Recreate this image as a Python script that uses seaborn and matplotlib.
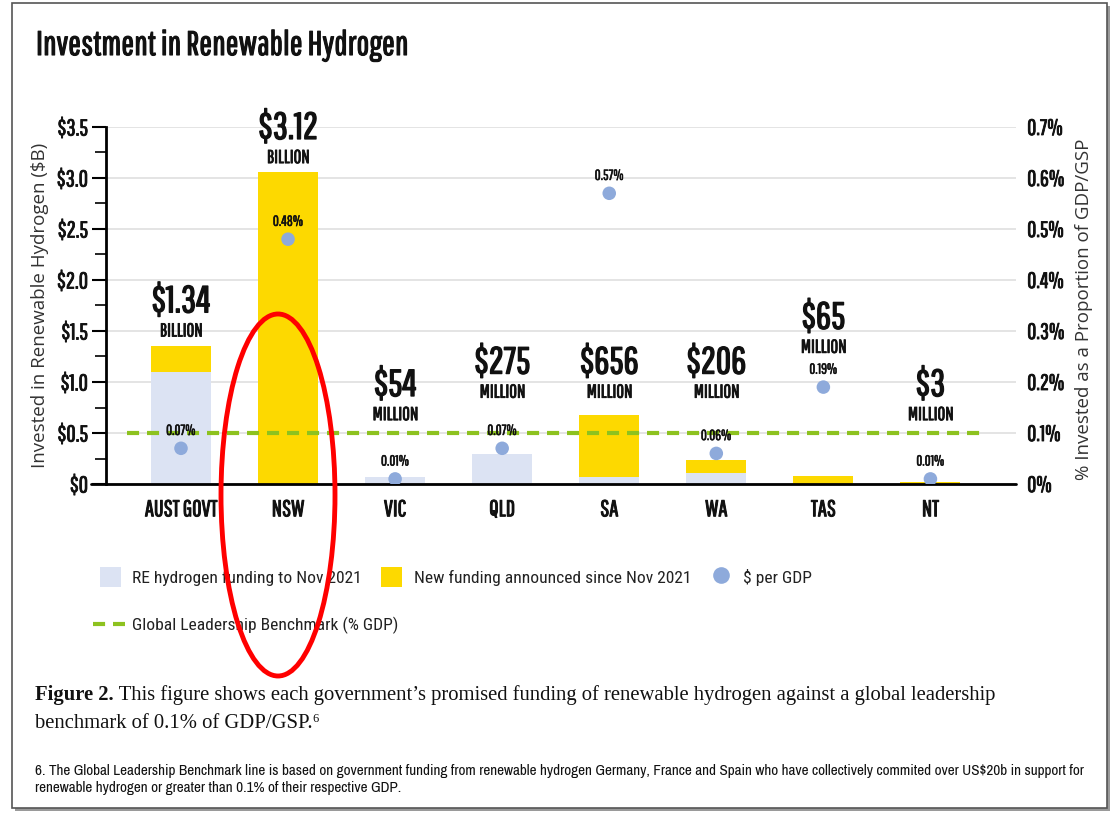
import numpy as np
import pandas as pd
import seaborn as sns
import matplotlib.pyplot as plt
import matplotlib.patheffects as pe
from matplotlib.patches import Ellipse, Rectangle, Patch
from matplotlib.lines import Line2D

# data
govts = ["AUST GOVT", "NSW", "VIC", "QLD", "SA", "WA", "TAS", "NT"]
funding_to_nov21 = [1.10, 0.0, 0.07, 0.29, 0.07, 0.11, 0.0, 0.0]      # $B
new_funding = [0.25, 3.06, 0.0, 0.0, 0.61, 0.125, 0.08, 0.02]          # $B
pct_gdp = [0.07, 0.48, 0.01, 0.07, 0.57, 0.06, 0.19, 0.01]             # % of GDP/GSP
total_labels = ["$1.34", "$3.12", "$54", "$275", "$656", "$206", "$65", "$3"]
unit_labels = ["BILLION", "BILLION", "MILLION", "MILLION", "MILLION", "MILLION", "MILLION", "MILLION"]
benchmark = 0.1

LIGHT = "#dce3f3"
YELLOW = "#fdd900"
DOT = "#8eaadb"
GREEN = "#8dc21f"
INK = "#111111"
GOTHIC = ["Pathway Gothic One", "Roboto Condensed", "DejaVu Sans"]
COND = ["Roboto Condensed", "DejaVu Sans"]
NARROW = ["Archivo Narrow", "Roboto Condensed", "DejaVu Sans"]
SANS = ["Open Sans", "DejaVu Sans"]
SERIF = ["Liberation Serif", "DejaVu Serif"]


def bolder(w):
    return [pe.withStroke(linewidth=w, foreground=INK)]


sns.set_theme(style="white")
plt.rcParams["font.family"] = GOTHIC

df = pd.DataFrame({"govt": govts, "old": funding_to_nov21, "new": new_funding})
df["total"] = df["old"] + df["new"]

fig = plt.figure(figsize=(11.14, 8.14), dpi=100)
ax = fig.add_axes([0.0952, 0.4054, 0.8169, 0.4386])

sns.barplot(data=df, x="govt", y="total", color=YELLOW, width=0.56, saturation=1,
            errorbar=None, linewidth=0, ax=ax)
sns.barplot(data=df, x="govt", y="old", color=LIGHT, width=0.56, saturation=1,
            errorbar=None, linewidth=0, ax=ax)

ax.set_xlim(-0.7, len(govts) - 0.2)
ax.set_ylim(0, 3.5)
yt = np.arange(0, 3.51, 0.5)
ax.set_yticks(yt)
ax.set_yticklabels(["$0" if v == 0 else f"${v:.1f}" for v in yt], fontsize=16.5, color=INK)
ax.set_yticks(np.arange(0.25, 3.5, 0.5), minor=True)
ax.tick_params(axis="y", which="major", length=10, width=1.5, color="black", left=True, pad=3)
ax.tick_params(axis="y", which="minor", length=8, width=1.2, color="black", left=True)
ax.tick_params(axis="x", length=0, pad=11)
for lab in ax.get_xticklabels():
    lab.set_fontsize(16.5)
    lab.set_color(INK)
    lab.set_path_effects(bolder(0.7))
for lab in ax.get_yticklabels():
    lab.set_path_effects(bolder(0.6))
ax.set_xlabel("")
ax.set_ylabel("")
ax.yaxis.grid(True, color="#e2e2e2", lw=1.3)
ax.set_axisbelow(True)
for s in ["top", "right", "bottom"]:
    ax.spines[s].set_visible(False)
ax.spines["left"].set_color("black")
ax.spines["left"].set_linewidth(2)
ax.axhline(0, xmin=-0.016, xmax=1, color="black", lw=2, clip_on=False, zorder=4)

# value labels above bars
label_anchor = [1.50, 3.20, 0.68, 0.90, 0.90, 0.90, 1.34, 0.68]
for i, (tot, unit, yb) in enumerate(zip(total_labels, unit_labels, label_anchor)):
    ax.text(i, yb, unit, ha="center", va="center", fontsize=13.5, color=INK,
            path_effects=bolder(0.6))
    ax.annotate(tot, xy=(i, yb), xytext=(0, 21), textcoords="offset points",
                ha="center", va="center", fontsize=27, color=INK,
                annotation_clip=False, path_effects=bolder(1.0))

# % of GDP on the right axis
ax2 = ax.twinx()
ax2.set_ylim(0, 0.7)
ax2.hlines(benchmark, -0.5, len(govts) - 0.5, colors=GREEN, lw=3,
           linestyles=(0, (2.9, 1.9)), zorder=3)
sns.scatterplot(x=np.arange(len(govts)), y=pct_gdp, color=DOT, s=95,
                edgecolor="none", zorder=5, ax=ax2)
for i, p in enumerate(pct_gdp):
    ax2.annotate(f"{p:.2f}%", xy=(i, p), xytext=(0, 12.5), textcoords="offset points",
                 ha="center", va="center", fontsize=10.5, color=INK,
                 path_effects=bolder(0.4))
ax2.set_yticks(np.arange(0, 0.71, 0.1))
ax2.set_yticklabels(["0%"] + [f"{v:.1f}%" for v in np.arange(0.1, 0.71, 0.1)],
                    fontsize=16, color=INK)
for lab in ax2.get_yticklabels():
    lab.set_path_effects(bolder(0.6))
ax2.tick_params(axis="y", length=0, pad=8)
ax2.set_xlim(ax.get_xlim())
ax2.set_xlabel("")
ax2.set_ylabel("")
for s in ax2.spines.values():
    s.set_visible(False)

fig.text(40 / 1114, 1 - 305 / 814, "Invested in Renewable Hydrogen ($B)", rotation=90,
         ha="center", va="center", fontsize=13.5, color="#333333", family=SANS)
fig.text(1084 / 1114, 1 - 309 / 814, "% Invested as a Proportion of GDP/GSP", rotation=90,
         ha="center", va="center", fontsize=13.5, color="#333333", family=SANS)

fig.text(36 / 1114, 1 - 55 / 814, "Investment in Renewable Hydrogen",
         ha="left", va="baseline", fontsize=24.5, color=INK, path_effects=bolder(0.8))

# legend
h1 = [Patch(facecolor=LIGHT, edgecolor="none", label="RE hydrogen funding to Nov 2021"),
      Patch(facecolor=YELLOW, edgecolor="none", label="New funding announced since Nov 2021"),
      Line2D([], [], ls="none", marker="o", ms=12, mfc=DOT, mec="none", label="$ per GDP")]
leg_font = {"family": COND, "size": 12.6}
fig.legend(handles=h1, loc="center left", bbox_to_anchor=(100 / 1114, 1 - 577 / 814), ncol=3,
           frameon=False, prop=leg_font, handlelength=1.2, handleheight=1.35,
           handletextpad=0.65, columnspacing=1.1, borderpad=0, borderaxespad=0,
           labelcolor="#222222")
h2 = [Line2D([], [], color=GREEN, lw=3, ls=(0, (2.9, 1.9)), label="Global Leadership Benchmark (% GDP)")]
fig.legend(handles=h2, loc="center left", bbox_to_anchor=(93 / 1114, 1 - 625 / 814),
           frameon=False, prop=leg_font, handlelength=1.85, handletextpad=0.4,
           borderpad=0, borderaxespad=0, labelcolor="#222222")

# caption and footnote
t1 = fig.text(35 / 1114, 1 - 700 / 814, "Figure 2.", ha="left", va="baseline",
              fontsize=14.9, fontweight="bold", family=SERIF, color=INK)
ax.annotate(" This figure shows each government\u2019s promised funding of renewable hydrogen "
            "against a global leadership", xy=(1, 0), xycoords=t1, va="bottom", ha="left",
            fontsize=14.9, family=SERIF, color=INK, annotation_clip=False)
fig.text(35 / 1114, 1 - 728 / 814, "benchmark of 0.1% of GDP/GSP.\u2076", ha="left", va="baseline",
         fontsize=14.9, family=SERIF, color=INK)
fig.text(35 / 1114, 1 - 792 / 814,
         "6. The Global Leadership Benchmark line is based on government funding from renewable "
         "hydrogen Germany, France and Spain who have collectively commited over US$20b in support for\n"
         "renewable hydrogen or greater than 0.1% of their respective GDP.",
         ha="left", va="baseline", fontsize=10.95, color=INK, linespacing=1.25, family=NARROW)

# frame with shadow, red highlight around NSW
fig.add_artist(Rectangle((15 / 1114, 1 - 811 / 814), 1095 / 1114, 805 / 814,
                         transform=fig.transFigure, facecolor="#9a9a9a", edgecolor="none", zorder=-3))
fig.add_artist(Rectangle((12 / 1114, 1 - 808 / 814), 1095 / 1114, 805 / 814,
                         transform=fig.transFigure, facecolor="white", edgecolor="#555555",
                         lw=1.2, zorder=-2))
fig.add_artist(Ellipse((278 / 1114, 1 - 495 / 814), 114 / 1114, 362 / 814,
                       transform=fig.transFigure, fill=False, edgecolor="#ff0000", lw=3.5, zorder=10))

fig.savefig("out.png", dpi=100)
